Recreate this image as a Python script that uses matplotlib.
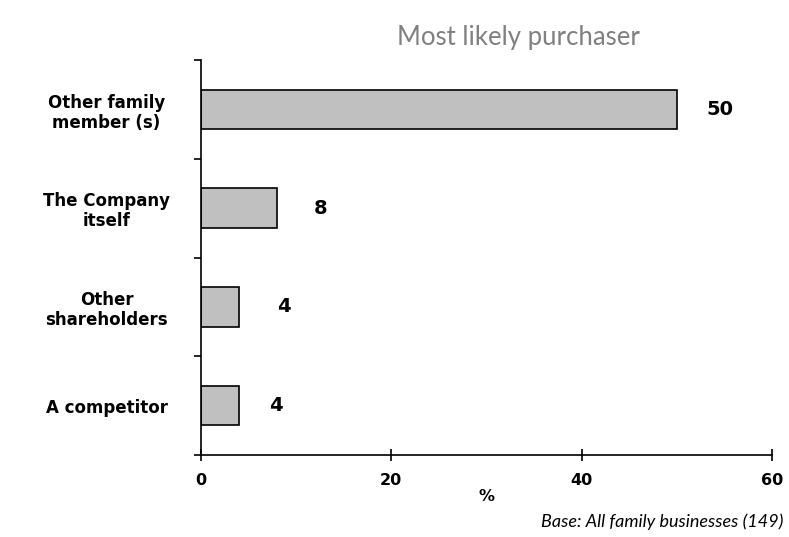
import matplotlib
matplotlib.use('Agg')
import matplotlib.pyplot as plt
import numpy as np

categories = ['Other family\nmember (s)', 'The Company\nitself', 'Other\nshareholders', 'A competitor']
values = [50, 8, 4, 4]
label_offsets = [4.5, 4.6, 4.7, 3.9]

fig = plt.figure(figsize=(7.89, 5.37), dpi=100)
ax = fig.add_axes([0.2548, 0.1527, 0.7237, 0.7353])

ypos = np.arange(len(categories))
ax.barh(ypos, values, height=0.4, color='#c0c0c0', edgecolor='black', linewidth=1.2)
ax.set_ylim(len(categories) - 0.5, -0.5)
ax.set_xlim(0, 60)

for y, v, off in zip(ypos, values, label_offsets):
    ax.text(v + off, y, str(v), ha='center', va='center', fontsize=14, fontweight='bold')

ax.set_yticks(np.arange(-0.5, len(categories)), minor=False)
ax.set_yticklabels([])
ax.set_yticks(ypos, minor=True)
ax.set_yticklabels(categories, minor=True, fontsize=12, fontweight='bold', ha='center',
                   linespacing=1.15)
ax.tick_params(axis='y', which='minor', length=0, pad=68)
ax.tick_params(axis='y', which='major', direction='out', length=5, width=1.2)

ax.set_xticks([0, 20, 40, 60])
ax.set_xticklabels(['0', '20', '40', '60'], fontsize=11.5, fontweight='bold')
ax.tick_params(axis='x', direction='inout', length=8, width=1.2, pad=9)
ax.set_xlabel('%', fontsize=11.5, fontweight='bold', labelpad=1)

for s in ['top', 'right']:
    ax.spines[s].set_visible(False)
ax.spines['left'].set_linewidth(1.2)
ax.spines['bottom'].set_linewidth(1.2)

fig.text(0.657, 0.93, 'Most likely purchaser', ha='center', va='center', fontsize=18.5,
         color='#808080', family='Lato')
fig.text(0.993, 0.028, 'Base: All family businesses (149)', ha='right', va='center', fontsize=13,
         style='italic', family='Lato')

fig.savefig('out.png', dpi=100)
